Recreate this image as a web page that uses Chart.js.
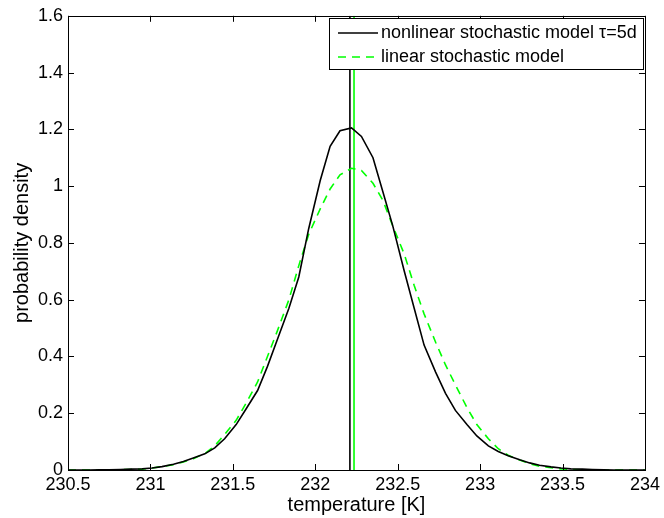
<!DOCTYPE html>
<html lang="en">
<head>
<meta charset="UTF-8">
<title>probability density</title>
<script src="https://cdn.jsdelivr.net/npm/chart.js@4.4.1/dist/chart.umd.min.js"></script>
<style>
  html, body { margin: 0; padding: 0; background: #fff; }
  #wrap { width: 664px; height: 518px; }
</style>
</head>
<body>
<div id="wrap"><canvas id="pdfChart" width="664" height="518"></canvas></div>
<script>
// temperature grid [K]
var temps = [230.50, 230.56, 230.63, 230.69, 230.75, 230.82, 230.88, 230.95, 231.01, 231.07,
             231.14, 231.20, 231.26, 231.33, 231.39, 231.45, 231.52, 231.58, 231.65, 231.71,
             231.77, 231.84, 231.90, 231.96, 232.03, 232.09, 232.15, 232.22, 232.28, 232.35,
             232.41, 232.47, 232.54, 232.60, 232.66, 232.73, 232.79, 232.85, 232.92, 232.98,
             233.05, 233.11, 233.17, 233.24, 233.30, 233.36, 233.43, 233.49, 233.55, 233.62,
             233.68, 233.75, 233.81, 233.87, 233.94, 234.00];

// nonlinear stochastic model tau=5d
var nonlinear = [0.000, 0.000, 0.000, 0.001, 0.001, 0.002, 0.003, 0.004, 0.007, 0.012,
                 0.020, 0.030, 0.042, 0.057, 0.078, 0.110, 0.160, 0.215, 0.280, 0.365,
                 0.460, 0.570, 0.680, 0.850, 1.020, 1.140, 1.195, 1.205, 1.175, 1.100,
                 0.980, 0.860, 0.700, 0.570, 0.440, 0.345, 0.270, 0.210, 0.160, 0.120,
                 0.085, 0.065, 0.050, 0.036, 0.025, 0.017, 0.011, 0.007, 0.004, 0.003,
                 0.002, 0.001, 0.000, 0.000, 0.000, 0.000];

// linear stochastic model
var linear = [0.000, 0.000, 0.000, 0.000, 0.001, 0.001, 0.002, 0.003, 0.007, 0.012,
              0.019, 0.028, 0.040, 0.058, 0.085, 0.125, 0.175, 0.235, 0.310, 0.400,
              0.490, 0.600, 0.720, 0.830, 0.920, 0.990, 1.040, 1.063, 1.055, 1.010,
              0.950, 0.860, 0.760, 0.650, 0.550, 0.450, 0.370, 0.300, 0.220, 0.160,
              0.110, 0.075, 0.052, 0.035, 0.022, 0.013, 0.008, 0.004, 0.002, 0.001,
              0.000, 0.000, 0.000, 0.000, 0.000, 0.000];

// means (vertical lines)
var meanNonlinear = 232.21;
var meanLinear = 232.235;

var legendLabels = ['nonlinear stochastic model \u03c4=5d', 'linear stochastic model'];

var FONT = 'Liberation Sans, Arial, Helvetica, sans-serif';
var GREEN = '#00ff00';

function pts(xs, ys) {
    var out = [];
    for (var i = 0; i < xs.length; i++) out.push({x: xs[i], y: ys[i]});
    return out;
}

function fmt(v) {
    return String(Math.round(v * 10) / 10);
}

// matlab style box with inward ticks + legend
var boxPlugin = {
    id: 'boxPlugin',
    afterDraw: function (chart) {
        var ctx = chart.ctx, a = chart.chartArea;
        var xs = chart.scales.x, ys = chart.scales.y;
        ctx.save();
        ctx.strokeStyle = '#000';
        ctx.lineWidth = 1;
        ctx.beginPath();
        var tl = 6;
        xs.ticks.forEach(function (t) {
            var px = Math.round(xs.getPixelForValue(t.value)) + 0.5;
            ctx.moveTo(px, a.bottom); ctx.lineTo(px, a.bottom - tl);
            ctx.moveTo(px, a.top); ctx.lineTo(px, a.top + tl);
        });
        ys.ticks.forEach(function (t) {
            var py = Math.round(ys.getPixelForValue(t.value)) + 0.5;
            ctx.moveTo(a.left, py); ctx.lineTo(a.left + tl, py);
            ctx.moveTo(a.right, py); ctx.lineTo(a.right - tl, py);
        });
        ctx.stroke();
        ctx.strokeRect(Math.round(a.left) + 0.5, Math.round(a.top) + 0.5,
                       Math.round(a.right - a.left), Math.round(a.bottom - a.top));

        // legend
        var lx = 329, ly = 18, lw = 314, lh = 51;
        ctx.fillStyle = '#fff';
        ctx.fillRect(lx, ly, lw, lh);
        ctx.strokeRect(lx + 0.5, ly + 0.5, lw, lh);
        ctx.font = '18px ' + FONT;
        ctx.textBaseline = 'middle';
        ctx.fillStyle = '#000';
        var rows = [ly + 15, ly + 39];
        ctx.lineWidth = 1.5;
        ctx.beginPath();
        ctx.moveTo(338, rows[0]); ctx.lineTo(378, rows[0]);
        ctx.stroke();
        ctx.strokeStyle = GREEN;
        ctx.setLineDash([8, 6]);
        ctx.beginPath();
        ctx.moveTo(338, rows[1]); ctx.lineTo(378, rows[1]);
        ctx.stroke();
        ctx.setLineDash([]);
        ctx.fillText(legendLabels[0], 381, rows[0]);
        ctx.fillText(legendLabels[1], 381, rows[1]);
        ctx.restore();
    }
};

var ctx = document.getElementById('pdfChart').getContext('2d');
var chart = new Chart(ctx, {
    type: 'line',
    data: {
        datasets: [
            {
                label: legendLabels[0],
                data: pts(temps, nonlinear),
                borderColor: '#000',
                borderWidth: 1.6,
                pointRadius: 0,
                tension: 0
            },
            {
                label: legendLabels[1],
                data: pts(temps, linear),
                borderColor: GREEN,
                borderWidth: 1.6,
                borderDash: [8, 6],
                pointRadius: 0,
                tension: 0
            },
            {
                label: 'mean nonlinear',
                data: [{x: meanNonlinear, y: 0}, {x: meanNonlinear, y: 1.6}],
                borderColor: '#000',
                borderWidth: 1.6,
                pointRadius: 0
            },
            {
                label: 'mean linear',
                data: [{x: meanLinear, y: 0}, {x: meanLinear, y: 1.6}],
                borderColor: GREEN,
                borderWidth: 1.6,
                pointRadius: 0
            }
        ]
    },
    options: {
        responsive: false,
        animation: false,
        layout: { padding: { top: 12, right: 16, left: 0, bottom: 0 } },
        plugins: { legend: { display: false }, tooltip: { enabled: false } },
        scales: {
            x: {
                type: 'linear',
                min: 230.5,
                max: 234,
                ticks: { stepSize: 0.5, color: '#000', font: { family: FONT, size: 18 }, padding: 4,
                         maxRotation: 0, callback: fmt },
                grid: { display: false, drawTicks: false },
                border: { display: false },
                title: { display: true, text: 'temperature [K]', color: '#000',
                         font: { family: FONT, size: 20 }, padding: { top: 0, bottom: 1 } },
                afterFit: function (s) { s.height = 48; }
            },
            y: {
                min: 0,
                max: 1.6,
                ticks: { stepSize: 0.2, color: '#000', font: { family: FONT, size: 18 }, padding: 5,
                         callback: fmt },
                grid: { display: false, drawTicks: false },
                border: { display: false },
                title: { display: true, text: 'probability density', color: '#000',
                         font: { family: FONT, size: 20 }, padding: { top: 10, bottom: 0 } },
                afterFit: function (s) { s.width = 68; }
            }
        }
    },
    plugins: [boxPlugin]
});
</script>
</body>
</html>
